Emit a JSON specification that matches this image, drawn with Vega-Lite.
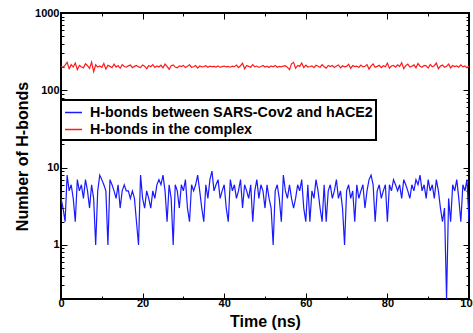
{
"$schema":"https://vega.github.io/schema/vega-lite/v6.json",
"width":408,"height":286,
"autosize":{"type":"none"},
"padding":{"left":61,"top":13,"right":4,"bottom":34},
"background":"white",
"config":{"view":{"stroke":"black","strokeWidth":2},"font":"Liberation Sans"},
"data":{"values":[
{"t":0,"n":4,"s":"H-bonds between SARS-Cov2 and hACE2"},{"t":0.5,"n":3,"s":"H-bonds between SARS-Cov2 and hACE2"},{"t":1,"n":2,"s":"H-bonds between SARS-Cov2 and hACE2"},{"t":1.5,"n":8,"s":"H-bonds between SARS-Cov2 and hACE2"},{"t":2,"n":5,"s":"H-bonds between SARS-Cov2 and hACE2"},{"t":2.5,"n":6,"s":"H-bonds between SARS-Cov2 and hACE2"},{"t":3,"n":4,"s":"H-bonds between SARS-Cov2 and hACE2"},{"t":3.5,"n":2,"s":"H-bonds between SARS-Cov2 and hACE2"},{"t":4,"n":7,"s":"H-bonds between SARS-Cov2 and hACE2"},{"t":4.5,"n":5,"s":"H-bonds between SARS-Cov2 and hACE2"},
{"t":5,"n":6,"s":"H-bonds between SARS-Cov2 and hACE2"},{"t":5.5,"n":4,"s":"H-bonds between SARS-Cov2 and hACE2"},{"t":6,"n":7,"s":"H-bonds between SARS-Cov2 and hACE2"},{"t":6.5,"n":5,"s":"H-bonds between SARS-Cov2 and hACE2"},{"t":7,"n":3,"s":"H-bonds between SARS-Cov2 and hACE2"},{"t":7.5,"n":6,"s":"H-bonds between SARS-Cov2 and hACE2"},{"t":8,"n":4,"s":"H-bonds between SARS-Cov2 and hACE2"},{"t":8.5,"n":1,"s":"H-bonds between SARS-Cov2 and hACE2"},{"t":9,"n":5,"s":"H-bonds between SARS-Cov2 and hACE2"},{"t":9.5,"n":8,"s":"H-bonds between SARS-Cov2 and hACE2"},
{"t":10,"n":7,"s":"H-bonds between SARS-Cov2 and hACE2"},{"t":10.5,"n":6,"s":"H-bonds between SARS-Cov2 and hACE2"},{"t":11,"n":5,"s":"H-bonds between SARS-Cov2 and hACE2"},{"t":11.5,"n":1,"s":"H-bonds between SARS-Cov2 and hACE2"},{"t":12,"n":7,"s":"H-bonds between SARS-Cov2 and hACE2"},{"t":12.5,"n":6,"s":"H-bonds between SARS-Cov2 and hACE2"},{"t":13,"n":5,"s":"H-bonds between SARS-Cov2 and hACE2"},{"t":13.5,"n":4,"s":"H-bonds between SARS-Cov2 and hACE2"},{"t":14,"n":6,"s":"H-bonds between SARS-Cov2 and hACE2"},{"t":14.5,"n":3,"s":"H-bonds between SARS-Cov2 and hACE2"},
{"t":15,"n":5,"s":"H-bonds between SARS-Cov2 and hACE2"},{"t":15.5,"n":6,"s":"H-bonds between SARS-Cov2 and hACE2"},{"t":16,"n":5,"s":"H-bonds between SARS-Cov2 and hACE2"},{"t":16.5,"n":5,"s":"H-bonds between SARS-Cov2 and hACE2"},{"t":17,"n":4,"s":"H-bonds between SARS-Cov2 and hACE2"},{"t":17.5,"n":5,"s":"H-bonds between SARS-Cov2 and hACE2"},{"t":18,"n":4,"s":"H-bonds between SARS-Cov2 and hACE2"},{"t":18.5,"n":2,"s":"H-bonds between SARS-Cov2 and hACE2"},{"t":19,"n":1,"s":"H-bonds between SARS-Cov2 and hACE2"},{"t":19.5,"n":8,"s":"H-bonds between SARS-Cov2 and hACE2"},
{"t":20,"n":4,"s":"H-bonds between SARS-Cov2 and hACE2"},{"t":20.5,"n":3,"s":"H-bonds between SARS-Cov2 and hACE2"},{"t":21,"n":5,"s":"H-bonds between SARS-Cov2 and hACE2"},{"t":21.5,"n":4,"s":"H-bonds between SARS-Cov2 and hACE2"},{"t":22,"n":3,"s":"H-bonds between SARS-Cov2 and hACE2"},{"t":22.5,"n":5,"s":"H-bonds between SARS-Cov2 and hACE2"},{"t":23,"n":4,"s":"H-bonds between SARS-Cov2 and hACE2"},{"t":23.5,"n":6,"s":"H-bonds between SARS-Cov2 and hACE2"},{"t":24,"n":7,"s":"H-bonds between SARS-Cov2 and hACE2"},{"t":24.5,"n":6,"s":"H-bonds between SARS-Cov2 and hACE2"},
{"t":25,"n":8,"s":"H-bonds between SARS-Cov2 and hACE2"},{"t":25.5,"n":5,"s":"H-bonds between SARS-Cov2 and hACE2"},{"t":26,"n":2,"s":"H-bonds between SARS-Cov2 and hACE2"},{"t":26.5,"n":6,"s":"H-bonds between SARS-Cov2 and hACE2"},{"t":27,"n":4,"s":"H-bonds between SARS-Cov2 and hACE2"},{"t":27.5,"n":1,"s":"H-bonds between SARS-Cov2 and hACE2"},{"t":28,"n":6,"s":"H-bonds between SARS-Cov2 and hACE2"},{"t":28.5,"n":5,"s":"H-bonds between SARS-Cov2 and hACE2"},{"t":29,"n":3,"s":"H-bonds between SARS-Cov2 and hACE2"},{"t":29.5,"n":6,"s":"H-bonds between SARS-Cov2 and hACE2"},
{"t":30,"n":5,"s":"H-bonds between SARS-Cov2 and hACE2"},{"t":30.5,"n":7,"s":"H-bonds between SARS-Cov2 and hACE2"},{"t":31,"n":3,"s":"H-bonds between SARS-Cov2 and hACE2"},{"t":31.5,"n":2,"s":"H-bonds between SARS-Cov2 and hACE2"},{"t":32,"n":6,"s":"H-bonds between SARS-Cov2 and hACE2"},{"t":32.5,"n":5,"s":"H-bonds between SARS-Cov2 and hACE2"},{"t":33,"n":6,"s":"H-bonds between SARS-Cov2 and hACE2"},{"t":33.5,"n":8,"s":"H-bonds between SARS-Cov2 and hACE2"},{"t":34,"n":5,"s":"H-bonds between SARS-Cov2 and hACE2"},{"t":34.5,"n":3,"s":"H-bonds between SARS-Cov2 and hACE2"},
{"t":35,"n":2,"s":"H-bonds between SARS-Cov2 and hACE2"},{"t":35.5,"n":6,"s":"H-bonds between SARS-Cov2 and hACE2"},{"t":36,"n":4,"s":"H-bonds between SARS-Cov2 and hACE2"},{"t":36.5,"n":7,"s":"H-bonds between SARS-Cov2 and hACE2"},{"t":37,"n":9,"s":"H-bonds between SARS-Cov2 and hACE2"},{"t":37.5,"n":5,"s":"H-bonds between SARS-Cov2 and hACE2"},{"t":38,"n":6,"s":"H-bonds between SARS-Cov2 and hACE2"},{"t":38.5,"n":7,"s":"H-bonds between SARS-Cov2 and hACE2"},{"t":39,"n":4,"s":"H-bonds between SARS-Cov2 and hACE2"},{"t":39.5,"n":5,"s":"H-bonds between SARS-Cov2 and hACE2"},
{"t":40,"n":6,"s":"H-bonds between SARS-Cov2 and hACE2"},{"t":40.5,"n":3,"s":"H-bonds between SARS-Cov2 and hACE2"},{"t":41,"n":2,"s":"H-bonds between SARS-Cov2 and hACE2"},{"t":41.5,"n":7,"s":"H-bonds between SARS-Cov2 and hACE2"},{"t":42,"n":5,"s":"H-bonds between SARS-Cov2 and hACE2"},{"t":42.5,"n":6,"s":"H-bonds between SARS-Cov2 and hACE2"},{"t":43,"n":4,"s":"H-bonds between SARS-Cov2 and hACE2"},{"t":43.5,"n":5,"s":"H-bonds between SARS-Cov2 and hACE2"},{"t":44,"n":7,"s":"H-bonds between SARS-Cov2 and hACE2"},{"t":44.5,"n":3,"s":"H-bonds between SARS-Cov2 and hACE2"},
{"t":45,"n":6,"s":"H-bonds between SARS-Cov2 and hACE2"},{"t":45.5,"n":5,"s":"H-bonds between SARS-Cov2 and hACE2"},{"t":46,"n":4,"s":"H-bonds between SARS-Cov2 and hACE2"},{"t":46.5,"n":6,"s":"H-bonds between SARS-Cov2 and hACE2"},{"t":47,"n":2,"s":"H-bonds between SARS-Cov2 and hACE2"},{"t":47.5,"n":5,"s":"H-bonds between SARS-Cov2 and hACE2"},{"t":48,"n":7,"s":"H-bonds between SARS-Cov2 and hACE2"},{"t":48.5,"n":4,"s":"H-bonds between SARS-Cov2 and hACE2"},{"t":49,"n":6,"s":"H-bonds between SARS-Cov2 and hACE2"},{"t":49.5,"n":5,"s":"H-bonds between SARS-Cov2 and hACE2"},
{"t":50,"n":3,"s":"H-bonds between SARS-Cov2 and hACE2"},{"t":50.5,"n":6,"s":"H-bonds between SARS-Cov2 and hACE2"},{"t":51,"n":4,"s":"H-bonds between SARS-Cov2 and hACE2"},{"t":51.5,"n":3,"s":"H-bonds between SARS-Cov2 and hACE2"},{"t":52,"n":1,"s":"H-bonds between SARS-Cov2 and hACE2"},{"t":52.5,"n":5,"s":"H-bonds between SARS-Cov2 and hACE2"},{"t":53,"n":6,"s":"H-bonds between SARS-Cov2 and hACE2"},{"t":53.5,"n":4,"s":"H-bonds between SARS-Cov2 and hACE2"},{"t":54,"n":2,"s":"H-bonds between SARS-Cov2 and hACE2"},{"t":54.5,"n":8,"s":"H-bonds between SARS-Cov2 and hACE2"},
{"t":55,"n":5,"s":"H-bonds between SARS-Cov2 and hACE2"},{"t":55.5,"n":4,"s":"H-bonds between SARS-Cov2 and hACE2"},{"t":56,"n":6,"s":"H-bonds between SARS-Cov2 and hACE2"},{"t":56.5,"n":4,"s":"H-bonds between SARS-Cov2 and hACE2"},{"t":57,"n":3,"s":"H-bonds between SARS-Cov2 and hACE2"},{"t":57.5,"n":4,"s":"H-bonds between SARS-Cov2 and hACE2"},{"t":58,"n":6,"s":"H-bonds between SARS-Cov2 and hACE2"},{"t":58.5,"n":5,"s":"H-bonds between SARS-Cov2 and hACE2"},{"t":59,"n":7,"s":"H-bonds between SARS-Cov2 and hACE2"},{"t":59.5,"n":3,"s":"H-bonds between SARS-Cov2 and hACE2"},
{"t":60,"n":2,"s":"H-bonds between SARS-Cov2 and hACE2"},{"t":60.5,"n":6,"s":"H-bonds between SARS-Cov2 and hACE2"},{"t":61,"n":2,"s":"H-bonds between SARS-Cov2 and hACE2"},{"t":61.5,"n":5,"s":"H-bonds between SARS-Cov2 and hACE2"},{"t":62,"n":4,"s":"H-bonds between SARS-Cov2 and hACE2"},{"t":62.5,"n":7,"s":"H-bonds between SARS-Cov2 and hACE2"},{"t":63,"n":5,"s":"H-bonds between SARS-Cov2 and hACE2"},{"t":63.5,"n":3,"s":"H-bonds between SARS-Cov2 and hACE2"},{"t":64,"n":2,"s":"H-bonds between SARS-Cov2 and hACE2"},{"t":64.5,"n":6,"s":"H-bonds between SARS-Cov2 and hACE2"},
{"t":65,"n":2,"s":"H-bonds between SARS-Cov2 and hACE2"},{"t":65.5,"n":5,"s":"H-bonds between SARS-Cov2 and hACE2"},{"t":66,"n":6,"s":"H-bonds between SARS-Cov2 and hACE2"},{"t":66.5,"n":4,"s":"H-bonds between SARS-Cov2 and hACE2"},{"t":67,"n":5,"s":"H-bonds between SARS-Cov2 and hACE2"},{"t":67.5,"n":7,"s":"H-bonds between SARS-Cov2 and hACE2"},{"t":68,"n":4,"s":"H-bonds between SARS-Cov2 and hACE2"},{"t":68.5,"n":5,"s":"H-bonds between SARS-Cov2 and hACE2"},{"t":69,"n":3,"s":"H-bonds between SARS-Cov2 and hACE2"},{"t":69.5,"n":1,"s":"H-bonds between SARS-Cov2 and hACE2"},
{"t":70,"n":5,"s":"H-bonds between SARS-Cov2 and hACE2"},{"t":70.5,"n":6,"s":"H-bonds between SARS-Cov2 and hACE2"},{"t":71,"n":4,"s":"H-bonds between SARS-Cov2 and hACE2"},{"t":71.5,"n":5,"s":"H-bonds between SARS-Cov2 and hACE2"},{"t":72,"n":2,"s":"H-bonds between SARS-Cov2 and hACE2"},{"t":72.5,"n":6,"s":"H-bonds between SARS-Cov2 and hACE2"},{"t":73,"n":4,"s":"H-bonds between SARS-Cov2 and hACE2"},{"t":73.5,"n":5,"s":"H-bonds between SARS-Cov2 and hACE2"},{"t":74,"n":6,"s":"H-bonds between SARS-Cov2 and hACE2"},{"t":74.5,"n":3,"s":"H-bonds between SARS-Cov2 and hACE2"},
{"t":75,"n":5,"s":"H-bonds between SARS-Cov2 and hACE2"},{"t":75.5,"n":7,"s":"H-bonds between SARS-Cov2 and hACE2"},{"t":76,"n":8,"s":"H-bonds between SARS-Cov2 and hACE2"},{"t":76.5,"n":6,"s":"H-bonds between SARS-Cov2 and hACE2"},{"t":77,"n":2,"s":"H-bonds between SARS-Cov2 and hACE2"},{"t":77.5,"n":5,"s":"H-bonds between SARS-Cov2 and hACE2"},{"t":78,"n":6,"s":"H-bonds between SARS-Cov2 and hACE2"},{"t":78.5,"n":4,"s":"H-bonds between SARS-Cov2 and hACE2"},{"t":79,"n":5,"s":"H-bonds between SARS-Cov2 and hACE2"},{"t":79.5,"n":6,"s":"H-bonds between SARS-Cov2 and hACE2"},
{"t":80,"n":2,"s":"H-bonds between SARS-Cov2 and hACE2"},{"t":80.5,"n":6,"s":"H-bonds between SARS-Cov2 and hACE2"},{"t":81,"n":5,"s":"H-bonds between SARS-Cov2 and hACE2"},{"t":81.5,"n":7,"s":"H-bonds between SARS-Cov2 and hACE2"},{"t":82,"n":6,"s":"H-bonds between SARS-Cov2 and hACE2"},{"t":82.5,"n":5,"s":"H-bonds between SARS-Cov2 and hACE2"},{"t":83,"n":6,"s":"H-bonds between SARS-Cov2 and hACE2"},{"t":83.5,"n":4,"s":"H-bonds between SARS-Cov2 and hACE2"},{"t":84,"n":7,"s":"H-bonds between SARS-Cov2 and hACE2"},{"t":84.5,"n":6,"s":"H-bonds between SARS-Cov2 and hACE2"},
{"t":85,"n":5,"s":"H-bonds between SARS-Cov2 and hACE2"},{"t":85.5,"n":4,"s":"H-bonds between SARS-Cov2 and hACE2"},{"t":86,"n":6,"s":"H-bonds between SARS-Cov2 and hACE2"},{"t":86.5,"n":5,"s":"H-bonds between SARS-Cov2 and hACE2"},{"t":87,"n":7,"s":"H-bonds between SARS-Cov2 and hACE2"},{"t":87.5,"n":6,"s":"H-bonds between SARS-Cov2 and hACE2"},{"t":88,"n":8,"s":"H-bonds between SARS-Cov2 and hACE2"},{"t":88.5,"n":5,"s":"H-bonds between SARS-Cov2 and hACE2"},{"t":89,"n":6,"s":"H-bonds between SARS-Cov2 and hACE2"},{"t":89.5,"n":4,"s":"H-bonds between SARS-Cov2 and hACE2"},
{"t":90,"n":7,"s":"H-bonds between SARS-Cov2 and hACE2"},{"t":90.5,"n":5,"s":"H-bonds between SARS-Cov2 and hACE2"},{"t":91,"n":6,"s":"H-bonds between SARS-Cov2 and hACE2"},{"t":91.5,"n":4,"s":"H-bonds between SARS-Cov2 and hACE2"},{"t":92,"n":7,"s":"H-bonds between SARS-Cov2 and hACE2"},{"t":92.5,"n":5,"s":"H-bonds between SARS-Cov2 and hACE2"},{"t":93,"n":3,"s":"H-bonds between SARS-Cov2 and hACE2"},{"t":93.5,"n":2,"s":"H-bonds between SARS-Cov2 and hACE2"},{"t":94,"n":3,"s":"H-bonds between SARS-Cov2 and hACE2"},{"t":94.5,"n":0.2,"s":"H-bonds between SARS-Cov2 and hACE2"},
{"t":95,"n":4,"s":"H-bonds between SARS-Cov2 and hACE2"},{"t":95.5,"n":2,"s":"H-bonds between SARS-Cov2 and hACE2"},{"t":96,"n":6,"s":"H-bonds between SARS-Cov2 and hACE2"},{"t":96.5,"n":5,"s":"H-bonds between SARS-Cov2 and hACE2"},{"t":97,"n":7,"s":"H-bonds between SARS-Cov2 and hACE2"},{"t":97.5,"n":4,"s":"H-bonds between SARS-Cov2 and hACE2"},{"t":98,"n":2,"s":"H-bonds between SARS-Cov2 and hACE2"},{"t":98.5,"n":6,"s":"H-bonds between SARS-Cov2 and hACE2"},{"t":99,"n":5,"s":"H-bonds between SARS-Cov2 and hACE2"},{"t":99.5,"n":7,"s":"H-bonds between SARS-Cov2 and hACE2"},{"t":100,"n":2,"s":"H-bonds between SARS-Cov2 and hACE2"},
{"t":0,"n":205,"s":"H-bonds in the complex"},{"t":0.5,"n":198,"s":"H-bonds in the complex"},{"t":1,"n":212,"s":"H-bonds in the complex"},{"t":1.5,"n":230,"s":"H-bonds in the complex"},{"t":2,"n":190,"s":"H-bonds in the complex"},{"t":2.5,"n":215,"s":"H-bonds in the complex"},{"t":3,"n":200,"s":"H-bonds in the complex"},{"t":3.5,"n":225,"s":"H-bonds in the complex"},{"t":4,"n":185,"s":"H-bonds in the complex"},{"t":4.5,"n":210,"s":"H-bonds in the complex"},
{"t":5,"n":202,"s":"H-bonds in the complex"},{"t":5.5,"n":195,"s":"H-bonds in the complex"},{"t":6,"n":220,"s":"H-bonds in the complex"},{"t":6.5,"n":208,"s":"H-bonds in the complex"},{"t":7,"n":192,"s":"H-bonds in the complex"},{"t":7.5,"n":232,"s":"H-bonds in the complex"},{"t":8,"n":175,"s":"H-bonds in the complex"},{"t":8.5,"n":214,"s":"H-bonds in the complex"},{"t":9,"n":200,"s":"H-bonds in the complex"},{"t":9.5,"n":206,"s":"H-bonds in the complex"},
{"t":10,"n":198,"s":"H-bonds in the complex"},{"t":10.5,"n":222,"s":"H-bonds in the complex"},{"t":11,"n":188,"s":"H-bonds in the complex"},{"t":11.5,"n":211,"s":"H-bonds in the complex"},{"t":12,"n":204,"s":"H-bonds in the complex"},{"t":12.5,"n":196,"s":"H-bonds in the complex"},{"t":13,"n":218,"s":"H-bonds in the complex"},{"t":13.5,"n":200,"s":"H-bonds in the complex"},{"t":14,"n":209,"s":"H-bonds in the complex"},{"t":14.5,"n":193,"s":"H-bonds in the complex"},
{"t":15,"n":215,"s":"H-bonds in the complex"},{"t":15.5,"n":203,"s":"H-bonds in the complex"},{"t":16,"n":199,"s":"H-bonds in the complex"},{"t":16.5,"n":207,"s":"H-bonds in the complex"},{"t":17,"n":212,"s":"H-bonds in the complex"},{"t":17.5,"n":196,"s":"H-bonds in the complex"},{"t":18,"n":204,"s":"H-bonds in the complex"},{"t":18.5,"n":210,"s":"H-bonds in the complex"},{"t":19,"n":201,"s":"H-bonds in the complex"},{"t":19.5,"n":197,"s":"H-bonds in the complex"},
{"t":20,"n":213,"s":"H-bonds in the complex"},{"t":20.5,"n":205,"s":"H-bonds in the complex"},{"t":21,"n":190,"s":"H-bonds in the complex"},{"t":21.5,"n":209,"s":"H-bonds in the complex"},{"t":22,"n":202,"s":"H-bonds in the complex"},{"t":22.5,"n":215,"s":"H-bonds in the complex"},{"t":23,"n":198,"s":"H-bonds in the complex"},{"t":23.5,"n":206,"s":"H-bonds in the complex"},{"t":24,"n":200,"s":"H-bonds in the complex"},{"t":24.5,"n":211,"s":"H-bonds in the complex"},
{"t":25,"n":195,"s":"H-bonds in the complex"},{"t":25.5,"n":219,"s":"H-bonds in the complex"},{"t":26,"n":204,"s":"H-bonds in the complex"},{"t":26.5,"n":187,"s":"H-bonds in the complex"},{"t":27,"n":208,"s":"H-bonds in the complex"},{"t":27.5,"n":213,"s":"H-bonds in the complex"},{"t":28,"n":200,"s":"H-bonds in the complex"},{"t":28.5,"n":196,"s":"H-bonds in the complex"},{"t":29,"n":207,"s":"H-bonds in the complex"},{"t":29.5,"n":203,"s":"H-bonds in the complex"},
{"t":30,"n":210,"s":"H-bonds in the complex"},{"t":30.5,"n":197,"s":"H-bonds in the complex"},{"t":31,"n":205,"s":"H-bonds in the complex"},{"t":31.5,"n":214,"s":"H-bonds in the complex"},{"t":32,"n":199,"s":"H-bonds in the complex"},{"t":32.5,"n":202,"s":"H-bonds in the complex"},{"t":33,"n":209,"s":"H-bonds in the complex"},{"t":33.5,"n":194,"s":"H-bonds in the complex"},{"t":34,"n":206,"s":"H-bonds in the complex"},{"t":34.5,"n":201,"s":"H-bonds in the complex"},
{"t":35,"n":203,"s":"H-bonds in the complex"},{"t":35.5,"n":208,"s":"H-bonds in the complex"},{"t":36,"n":199,"s":"H-bonds in the complex"},{"t":36.5,"n":205,"s":"H-bonds in the complex"},{"t":37,"n":202,"s":"H-bonds in the complex"},{"t":37.5,"n":204,"s":"H-bonds in the complex"},{"t":38,"n":200,"s":"H-bonds in the complex"},{"t":38.5,"n":207,"s":"H-bonds in the complex"},{"t":39,"n":198,"s":"H-bonds in the complex"},{"t":39.5,"n":203,"s":"H-bonds in the complex"},
{"t":40,"n":206,"s":"H-bonds in the complex"},{"t":40.5,"n":201,"s":"H-bonds in the complex"},{"t":41,"n":204,"s":"H-bonds in the complex"},{"t":41.5,"n":199,"s":"H-bonds in the complex"},{"t":42,"n":205,"s":"H-bonds in the complex"},{"t":42.5,"n":202,"s":"H-bonds in the complex"},{"t":43,"n":212,"s":"H-bonds in the complex"},{"t":43.5,"n":196,"s":"H-bonds in the complex"},{"t":44,"n":208,"s":"H-bonds in the complex"},{"t":44.5,"n":224,"s":"H-bonds in the complex"},
{"t":45,"n":190,"s":"H-bonds in the complex"},{"t":45.5,"n":210,"s":"H-bonds in the complex"},{"t":46,"n":204,"s":"H-bonds in the complex"},{"t":46.5,"n":199,"s":"H-bonds in the complex"},{"t":47,"n":215,"s":"H-bonds in the complex"},{"t":47.5,"n":201,"s":"H-bonds in the complex"},{"t":48,"n":206,"s":"H-bonds in the complex"},{"t":48.5,"n":198,"s":"H-bonds in the complex"},{"t":49,"n":203,"s":"H-bonds in the complex"},{"t":49.5,"n":209,"s":"H-bonds in the complex"},
{"t":50,"n":200,"s":"H-bonds in the complex"},{"t":50.5,"n":205,"s":"H-bonds in the complex"},{"t":51,"n":197,"s":"H-bonds in the complex"},{"t":51.5,"n":207,"s":"H-bonds in the complex"},{"t":52,"n":202,"s":"H-bonds in the complex"},{"t":52.5,"n":210,"s":"H-bonds in the complex"},{"t":53,"n":199,"s":"H-bonds in the complex"},{"t":53.5,"n":204,"s":"H-bonds in the complex"},{"t":54,"n":201,"s":"H-bonds in the complex"},{"t":54.5,"n":206,"s":"H-bonds in the complex"},
{"t":55,"n":208,"s":"H-bonds in the complex"},{"t":55.5,"n":198,"s":"H-bonds in the complex"},{"t":56,"n":185,"s":"H-bonds in the complex"},{"t":56.5,"n":220,"s":"H-bonds in the complex"},{"t":57,"n":230,"s":"H-bonds in the complex"},{"t":57.5,"n":193,"s":"H-bonds in the complex"},{"t":58,"n":210,"s":"H-bonds in the complex"},{"t":58.5,"n":204,"s":"H-bonds in the complex"},{"t":59,"n":226,"s":"H-bonds in the complex"},{"t":59.5,"n":197,"s":"H-bonds in the complex"},
{"t":60,"n":212,"s":"H-bonds in the complex"},{"t":60.5,"n":200,"s":"H-bonds in the complex"},{"t":61,"n":203,"s":"H-bonds in the complex"},{"t":61.5,"n":207,"s":"H-bonds in the complex"},{"t":62,"n":196,"s":"H-bonds in the complex"},{"t":62.5,"n":211,"s":"H-bonds in the complex"},{"t":63,"n":205,"s":"H-bonds in the complex"},{"t":63.5,"n":199,"s":"H-bonds in the complex"},{"t":64,"n":215,"s":"H-bonds in the complex"},{"t":64.5,"n":202,"s":"H-bonds in the complex"},
{"t":65,"n":194,"s":"H-bonds in the complex"},{"t":65.5,"n":210,"s":"H-bonds in the complex"},{"t":66,"n":203,"s":"H-bonds in the complex"},{"t":66.5,"n":209,"s":"H-bonds in the complex"},{"t":67,"n":198,"s":"H-bonds in the complex"},{"t":67.5,"n":206,"s":"H-bonds in the complex"},{"t":68,"n":213,"s":"H-bonds in the complex"},{"t":68.5,"n":195,"s":"H-bonds in the complex"},{"t":69,"n":208,"s":"H-bonds in the complex"},{"t":69.5,"n":201,"s":"H-bonds in the complex"},
{"t":70,"n":204,"s":"H-bonds in the complex"},{"t":70.5,"n":217,"s":"H-bonds in the complex"},{"t":71,"n":192,"s":"H-bonds in the complex"},{"t":71.5,"n":209,"s":"H-bonds in the complex"},{"t":72,"n":203,"s":"H-bonds in the complex"},{"t":72.5,"n":206,"s":"H-bonds in the complex"},{"t":73,"n":198,"s":"H-bonds in the complex"},{"t":73.5,"n":212,"s":"H-bonds in the complex"},{"t":74,"n":201,"s":"H-bonds in the complex"},{"t":74.5,"n":205,"s":"H-bonds in the complex"},
{"t":75,"n":215,"s":"H-bonds in the complex"},{"t":75.5,"n":188,"s":"H-bonds in the complex"},{"t":76,"n":207,"s":"H-bonds in the complex"},{"t":76.5,"n":220,"s":"H-bonds in the complex"},{"t":77,"n":199,"s":"H-bonds in the complex"},{"t":77.5,"n":204,"s":"H-bonds in the complex"},{"t":78,"n":211,"s":"H-bonds in the complex"},{"t":78.5,"n":197,"s":"H-bonds in the complex"},{"t":79,"n":208,"s":"H-bonds in the complex"},{"t":79.5,"n":202,"s":"H-bonds in the complex"},
{"t":80,"n":225,"s":"H-bonds in the complex"},{"t":80.5,"n":193,"s":"H-bonds in the complex"},{"t":81,"n":206,"s":"H-bonds in the complex"},{"t":81.5,"n":210,"s":"H-bonds in the complex"},{"t":82,"n":199,"s":"H-bonds in the complex"},{"t":82.5,"n":214,"s":"H-bonds in the complex"},{"t":83,"n":203,"s":"H-bonds in the complex"},{"t":83.5,"n":228,"s":"H-bonds in the complex"},{"t":84,"n":191,"s":"H-bonds in the complex"},{"t":84.5,"n":209,"s":"H-bonds in the complex"},
{"t":85,"n":218,"s":"H-bonds in the complex"},{"t":85.5,"n":200,"s":"H-bonds in the complex"},{"t":86,"n":205,"s":"H-bonds in the complex"},{"t":86.5,"n":213,"s":"H-bonds in the complex"},{"t":87,"n":196,"s":"H-bonds in the complex"},{"t":87.5,"n":222,"s":"H-bonds in the complex"},{"t":88,"n":204,"s":"H-bonds in the complex"},{"t":88.5,"n":199,"s":"H-bonds in the complex"},{"t":89,"n":210,"s":"H-bonds in the complex"},{"t":89.5,"n":207,"s":"H-bonds in the complex"},
{"t":90,"n":194,"s":"H-bonds in the complex"},{"t":90.5,"n":216,"s":"H-bonds in the complex"},{"t":91,"n":202,"s":"H-bonds in the complex"},{"t":91.5,"n":208,"s":"H-bonds in the complex"},{"t":92,"n":225,"s":"H-bonds in the complex"},{"t":92.5,"n":190,"s":"H-bonds in the complex"},{"t":93,"n":206,"s":"H-bonds in the complex"},{"t":93.5,"n":212,"s":"H-bonds in the complex"},{"t":94,"n":198,"s":"H-bonds in the complex"},{"t":94.5,"n":204,"s":"H-bonds in the complex"},
{"t":95,"n":218,"s":"H-bonds in the complex"},{"t":95.5,"n":195,"s":"H-bonds in the complex"},{"t":96,"n":209,"s":"H-bonds in the complex"},{"t":96.5,"n":203,"s":"H-bonds in the complex"},{"t":97,"n":207,"s":"H-bonds in the complex"},{"t":97.5,"n":199,"s":"H-bonds in the complex"},{"t":98,"n":214,"s":"H-bonds in the complex"},{"t":98.5,"n":201,"s":"H-bonds in the complex"},{"t":99,"n":206,"s":"H-bonds in the complex"},{"t":99.5,"n":196,"s":"H-bonds in the complex"},{"t":100,"n":205,"s":"H-bonds in the complex"}
]},
"layer":[
{"mark":{"type":"line","strokeWidth":1.2,"clip":true},
 "encoding":{
  "x":{"field":"t","type":"quantitative","scale":{"domain":[0,100],"nice":false,"zero":false},
   "axis":{"orient":"bottom","values":[0,10,20,30,40,50,60,70,80,90,100],
    "tickSize":{"condition":{"test":"datum.value % 20 == 0","value":-6},"value":-3},
    "tickColor":"black","tickWidth":1,"domain":false,"grid":false,
    "labelExpr":"datum.value % 20 == 0 ? datum.label : ''",
    "labelFont":"Liberation Sans","labelFontWeight":"bold","labelFontSize":11,"labelColor":"black","labelPadding":4,"labelOverlap":false,"labelFlush":false,
    "title":"Time (ns)","titleFont":"Liberation Sans","titleFontSize":16,"titleFontWeight":"bold","titleColor":"black","titlePadding":2}},
  "y":{"field":"n","type":"quantitative","scale":{"type":"log","domain":[0.2,1000],"nice":false},
   "axis":{"orient":"left","values":[0.3,0.4,0.5,0.6,0.7,0.8,0.9,1,2,3,4,5,6,7,8,9,10,20,30,40,50,60,70,80,90,100,200,300,400,500,600,700,800,900,1000],
    "tickSize":{"condition":{"test":"indexof([1,10,100,1000], datum.value) >= 0","value":-6},"value":-3},
    "tickColor":"black","tickWidth":1,"domain":false,"grid":false,
    "labelExpr":"indexof([1,10,100,1000], datum.value) >= 0 ? '' + datum.value : ''",
    "labelFont":"Liberation Sans","labelFontWeight":"bold","labelFontSize":11,"labelColor":"black","labelPadding":8,"labelOverlap":false,"labelFlush":false,
    "title":"Number of H-bonds","titleFont":"Liberation Sans","titleFontSize":16,"titleFontWeight":"bold","titleColor":"black","titlePadding":4}},
  "color":{"field":"s","type":"nominal","scale":{"domain":["H-bonds between SARS-Cov2 and hACE2","H-bonds in the complex"],"range":["#1a1aff","#ff1a1a"]},
   "legend":{"title":null,"orient":"none","legendX":0,"legendY":87,"direction":"vertical","symbolType":"stroke","symbolSize":289,"symbolStrokeWidth":1.5,
    "labelFont":"Liberation Sans","labelFontSize":14.3,"labelFontWeight":"bold","labelColor":"black","labelOffset":7,"labelLimit":400,
    "padding":3,"rowPadding":0,
    "encode":{"legend":{"update":{"stroke":{"value":"black"},"strokeWidth":{"value":2},"fill":{"value":"white"}}}}}}
 }},
{"mark":{"type":"line","opacity":0},
 "encoding":{
  "x":{"field":"t","type":"quantitative",
   "axis":{"orient":"top","values":[0,10,20,30,40,50,60,70,80,90,100],
    "tickSize":{"condition":{"test":"datum.value % 20 == 0","value":-6},"value":-3},
    "tickColor":"black","tickWidth":1,"domain":false,"grid":false,"labels":false,"title":null}},
  "y":{"field":"n","type":"quantitative",
   "axis":{"orient":"right","values":[0.3,0.4,0.5,0.6,0.7,0.8,0.9,1,2,3,4,5,6,7,8,9,10,20,30,40,50,60,70,80,90,100,200,300,400,500,600,700,800,900,1000],
    "tickSize":{"condition":{"test":"indexof([1,10,100,1000], datum.value) >= 0","value":-6},"value":-3},
    "tickColor":"black","tickWidth":1,"domain":false,"grid":false,"labels":false,"title":null}},
  "detail":{"field":"s","type":"nominal"}
 }}
],
"resolve":{"axis":{"x":"independent","y":"independent"}}
}
